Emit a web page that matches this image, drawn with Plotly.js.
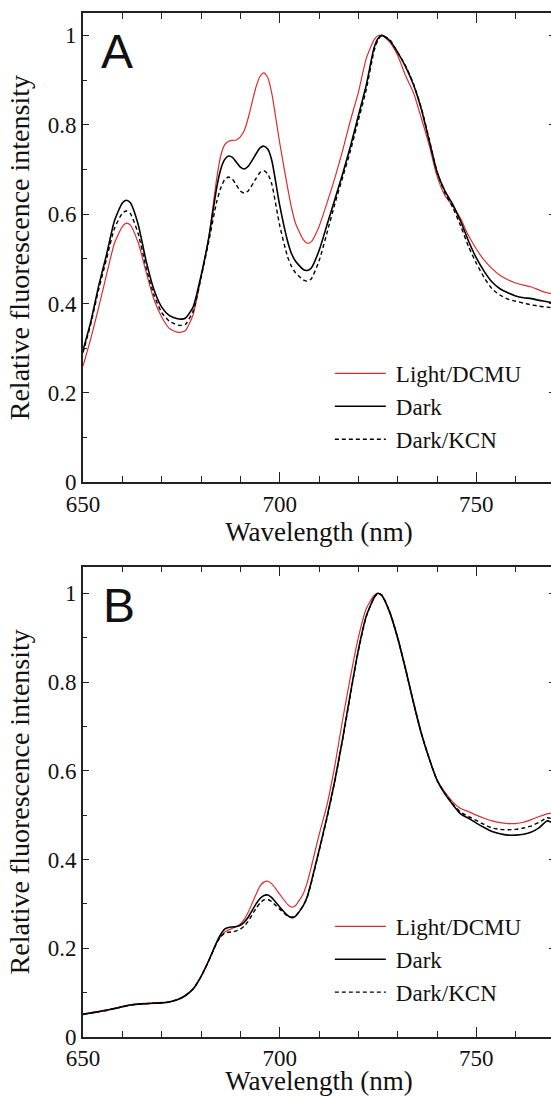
<!DOCTYPE html>
<html><head><meta charset="utf-8">
<script src="https://cdn.plot.ly/plotly-3.0.1.min.js"></script>
<style>
html,body{margin:0;padding:0;overflow:hidden;background:#fff}
</style>
</head><body><div id="chart" style="width:560px;height:1096px"></div>
<script>
const wavelength = [650,652,654,656,658,660,661,662,664,666,668,670,672,674,675,676,678,680,682,684,685,686,687,688,689,690,691,692,694,695,696,697,698,700,702,703,704,706,707,708,710,712,714,716,718,720,722,724,725,726,728,730,732,734,736,738,740,742,744,746,748,750,752,754,756,758,760,762,764,766,768,770];

// Panel A
const lightA = [0.26,0.322,0.392,0.465,0.535,0.572,0.58,0.576,0.537,0.472,0.41,0.37,0.344,0.336,0.336,0.339,0.375,0.458,0.55,0.68,0.73,0.755,0.763,0.765,0.766,0.773,0.787,0.815,0.885,0.908,0.916,0.905,0.87,0.76,0.66,0.615,0.58,0.543,0.535,0.538,0.572,0.624,0.68,0.742,0.81,0.872,0.948,0.99,0.999,1.0,0.985,0.955,0.91,0.872,0.815,0.755,0.685,0.642,0.618,0.59,0.552,0.522,0.497,0.478,0.463,0.453,0.446,0.441,0.437,0.43,0.424,0.42];
const darkA = [0.295,0.36,0.44,0.51,0.585,0.625,0.631,0.626,0.578,0.497,0.432,0.392,0.373,0.366,0.365,0.367,0.392,0.462,0.548,0.66,0.70,0.722,0.730,0.727,0.716,0.705,0.701,0.707,0.735,0.748,0.752,0.745,0.72,0.62,0.54,0.512,0.495,0.476,0.474,0.479,0.518,0.575,0.632,0.69,0.752,0.82,0.888,0.972,0.993,1.0,0.988,0.962,0.93,0.89,0.835,0.765,0.695,0.652,0.622,0.584,0.54,0.502,0.472,0.448,0.433,0.424,0.417,0.413,0.411,0.407,0.404,0.40];
const kcnA = [0.29,0.355,0.432,0.50,0.568,0.602,0.607,0.602,0.557,0.482,0.42,0.38,0.36,0.352,0.351,0.353,0.383,0.457,0.54,0.628,0.658,0.677,0.683,0.678,0.665,0.652,0.647,0.652,0.68,0.693,0.697,0.69,0.667,0.575,0.505,0.483,0.469,0.453,0.45,0.455,0.495,0.557,0.622,0.682,0.742,0.81,0.878,0.965,0.99,1.0,0.99,0.962,0.932,0.892,0.838,0.768,0.695,0.648,0.615,0.574,0.528,0.49,0.458,0.433,0.419,0.41,0.405,0.401,0.397,0.394,0.392,0.39];

// Panel B
const lightB = [0.052,0.055,0.058,0.061,0.065,0.069,0.071,0.073,0.075,0.076,0.077,0.078,0.08,0.085,0.089,0.094,0.109,0.137,0.173,0.213,0.226,0.236,0.241,0.245,0.249,0.255,0.265,0.281,0.322,0.34,0.349,0.351,0.345,0.322,0.299,0.293,0.296,0.323,0.348,0.382,0.455,0.522,0.61,0.715,0.812,0.9,0.965,0.995,1.0,0.994,0.955,0.897,0.827,0.752,0.683,0.627,0.58,0.552,0.53,0.515,0.508,0.5,0.493,0.487,0.483,0.481,0.481,0.484,0.49,0.497,0.503,0.506];
const darkB = [0.051,0.054,0.057,0.06,0.064,0.068,0.07,0.072,0.074,0.075,0.076,0.077,0.079,0.084,0.088,0.093,0.108,0.136,0.173,0.214,0.231,0.243,0.247,0.248,0.249,0.252,0.259,0.27,0.3,0.312,0.319,0.32,0.314,0.293,0.274,0.269,0.272,0.296,0.316,0.348,0.42,0.495,0.577,0.672,0.775,0.872,0.948,0.99,1.0,0.995,0.957,0.9,0.83,0.755,0.685,0.628,0.579,0.548,0.524,0.503,0.493,0.482,0.472,0.463,0.458,0.455,0.455,0.457,0.462,0.472,0.487,0.48];
const kcnB = [0.051,0.054,0.057,0.06,0.064,0.068,0.07,0.072,0.074,0.075,0.076,0.077,0.079,0.084,0.088,0.093,0.108,0.136,0.172,0.212,0.226,0.234,0.236,0.237,0.239,0.243,0.25,0.261,0.29,0.302,0.309,0.31,0.305,0.288,0.273,0.27,0.273,0.296,0.315,0.346,0.418,0.492,0.575,0.67,0.772,0.87,0.947,0.99,1.0,0.996,0.958,0.9,0.83,0.755,0.685,0.628,0.579,0.549,0.526,0.507,0.497,0.488,0.479,0.471,0.468,0.467,0.468,0.471,0.476,0.484,0.494,0.49];

const seriesNames = ['Light/DCMU','Dark','Dark/KCN'];
const RED = 'rgb(220,45,45)';

function mk(y, i, xa, ya, leg) {
  const styles = [
    {color: RED, width: 1.2, dash: 'solid'},
    {color: '#000', width: 1.6, dash: 'solid'},
    {color: '#000', width: 1.4, dash: '4px,3px'}
  ];
  return {x: wavelength, y: y, type: 'scatter', mode: 'lines', name: seriesNames[i],
    xaxis: xa, yaxis: ya, legend: leg, showlegend: true,
    line: Object.assign({shape: 'spline', smoothing: 0.6}, styles[i])};
}

const data = [
  mk(lightA,0,'x','y','legend'), mk(darkA,1,'x','y','legend'), mk(kcnA,2,'x','y','legend'),
  mk(lightB,0,'x2','y2','legend2'), mk(darkB,1,'x2','y2','legend2'), mk(kcnB,2,'x2','y2','legend2')
];

function xax(anchor) {
  return {anchor: anchor, domain: [0,1], range: [650,770], tick0: 650, dtick: 50,
    ticks: 'inside', ticklen: 10, tickwidth: 1.3, tickcolor: '#222',
    minor: {dtick: 10, ticks: 'inside', ticklen: 6, tickwidth: 1.2, tickcolor: '#222'},
    showline: true, linecolor: '#222', linewidth: 1.6, mirror: 'ticks',
    showgrid: false, zeroline: false,
    title: {text: 'Wavelength (nm)', font: {size: 27}, standoff: 3}};
}
function yax(anchor, dom, top) {
  return {anchor: anchor, domain: dom, range: [0, top], tick0: 0, dtick: 0.2,
    ticks: 'inside', ticklen: 6, tickwidth: 1.3, tickcolor: '#222',
    minor: {dtick: 0.1, ticks: 'inside', ticklen: 4, tickwidth: 1.2, tickcolor: '#222'},
    showline: true, linecolor: '#222', linewidth: 1.6, mirror: 'ticks',
    showgrid: false, zeroline: false,
    title: {text: 'Relative fluorescence intensity', font: {size: 28}, standoff: 10}};
}

const legendStyle = {bgcolor: 'rgba(0,0,0,0)', itemwidth: 56, tracegroupgap: 0,
  xanchor: 'left', yanchor: 'top'};

const layout = {
  width: 560, height: 1096,
  font: {family: 'Liberation Serif', size: 23, color: '#111'},
  margin: {l: 83, r: 5, t: 13, b: 59},
  paper_bgcolor: '#fff', plot_bgcolor: '#fff',
  showlegend: true,
  xaxis: xax('y'), yaxis: yax('x', [0.5417, 1], 1.05),
  xaxis2: xax('y2'), yaxis2: yax('x2', [0, 0.4593], 1.06),
  legend: Object.assign({x: 0.523, y: 0.669}, legendStyle),
  legend2: Object.assign({x: 0.523, y: 0.129}, legendStyle),
  annotations: [
    {text: 'A', xref: 'x domain', yref: 'y domain', x: 0.072, y: 0.918, xanchor: 'center', yanchor: 'middle',
     showarrow: false, font: {family: 'Liberation Sans', size: 48, color: '#111'}},
    {text: 'B', xref: 'x2 domain', yref: 'y2 domain', x: 0.076, y: 0.918, xanchor: 'center', yanchor: 'middle',
     showarrow: false, font: {family: 'Liberation Sans', size: 48, color: '#111'}}
  ]
};

Plotly.newPlot('chart', data, layout, {displayModeBar: false}).then(function(gd){
  gd.querySelectorAll('.legendlines path').forEach(function(p){ p.setAttribute('d','M5,0h51'); });
});
</script></body></html>
